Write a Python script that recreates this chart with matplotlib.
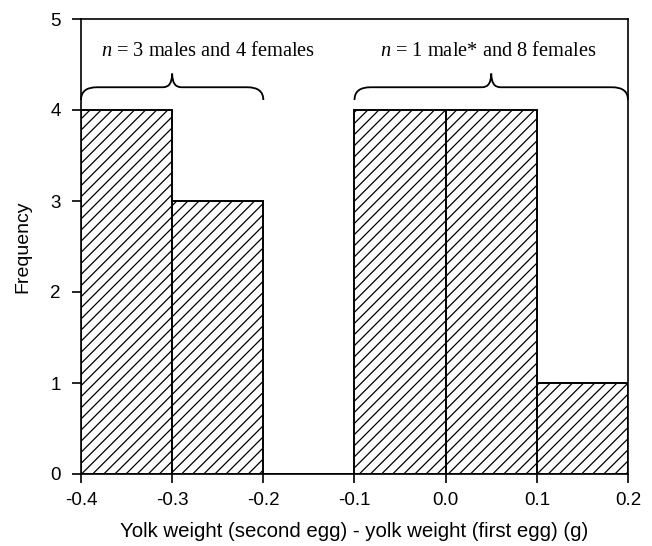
'''Histogram of yolk weight differences between second and first egg.'''

import matplotlib
matplotlib.use('Agg')
import matplotlib.pyplot as plt
from matplotlib.path import Path
import matplotlib.patches as mpatches

# Histogram data
bin_edges = [-0.4, -0.3, -0.2, -0.1, 0.0, 0.1, 0.2]
counts = [4, 3, 0, 4, 4, 1]

x_ticks = [-0.4, -0.3, -0.2, -0.1, 0.0, 0.1, 0.2]
y_ticks = [0, 1, 2, 3, 4, 5]

# Group annotations: (start, end, tip, label text, label x)
groups = [
    (-0.4, -0.2, -0.3, r'$n$ = 3 males and 4 females', -0.261),
    (-0.1, 0.2, 0.05, r'$n$ = 1 male* and 8 females', 0.047),
]


def brace(ax, x0, x1, xc, y_end=4.11, y_mid=4.25, y_tip=4.40,
          r=0.0175, r2=0.01):
    '''Draw a horizontal curly brace with ends pointing down.'''
    verts = [
        (x0, y_end), (x0, y_mid), (x0 + r, y_mid),
        (xc - r2, y_mid),
        (xc, y_mid), (xc, y_tip),
        (xc, y_mid), (xc + r2, y_mid),
        (x1 - r, y_mid),
        (x1, y_mid), (x1, y_end),
    ]
    codes = [
        Path.MOVETO, Path.CURVE3, Path.CURVE3,
        Path.LINETO,
        Path.CURVE3, Path.CURVE3,
        Path.CURVE3, Path.CURVE3,
        Path.LINETO,
        Path.CURVE3, Path.CURVE3,
    ]
    patch = mpatches.PathPatch(Path(verts, codes), fill=False,
                               edgecolor='black', linewidth=1.3,
                               clip_on=False)
    ax.add_patch(patch)


def main():
    plt.rcParams['font.family'] = 'Liberation Sans'
    plt.rcParams['axes.unicode_minus'] = False
    plt.rcParams['hatch.linewidth'] = 0.9
    plt.rcParams['mathtext.fontset'] = 'custom'
    plt.rcParams['mathtext.it'] = 'Liberation Serif:italic'
    plt.rcParams['mathtext.rm'] = 'Liberation Serif'

    fig = plt.figure(figsize=(6.52, 5.46), dpi=100)
    ax = fig.add_axes([81 / 652, 72 / 546, 547 / 652, 455 / 546])

    lefts = bin_edges[:-1]
    widths = [b - a for a, b in zip(bin_edges[:-1], bin_edges[1:])]
    ax.bar(lefts, counts, width=widths, align='edge', color='white',
           edgecolor='black', linewidth=1.4, hatch='///')

    for x0, x1, xc, label, xt in groups:
        brace(ax, x0, x1, xc)
        ax.text(xt, 4.64, label, ha='center', va='center', fontsize=14.7,
                family='Liberation Serif')

    ax.set_xlim(-0.4, 0.2)
    ax.set_ylim(0, 5)
    ax.set_xticks(x_ticks)
    ax.set_xticklabels(['{:.1f}'.format(t) for t in x_ticks])
    ax.set_yticks(y_ticks)
    ax.tick_params(direction='out', length=6.5, width=1.2, labelsize=13.5)
    ax.tick_params(axis='x', pad=6.5)
    ax.tick_params(axis='y', pad=8)
    for spine in ax.spines.values():
        spine.set_linewidth(1.2)

    ax.set_xlabel('Yolk weight (second egg) - yolk weight (first egg) (g)',
                  fontsize=14.7)
    ax.xaxis.set_label_coords(0.5, -0.106)
    ax.set_ylabel('Frequency', fontsize=14)
    ax.yaxis.set_label_coords(-0.09, 0.5)

    fig.savefig('out.png', dpi=100)


if __name__ == "__main__":
    main()
